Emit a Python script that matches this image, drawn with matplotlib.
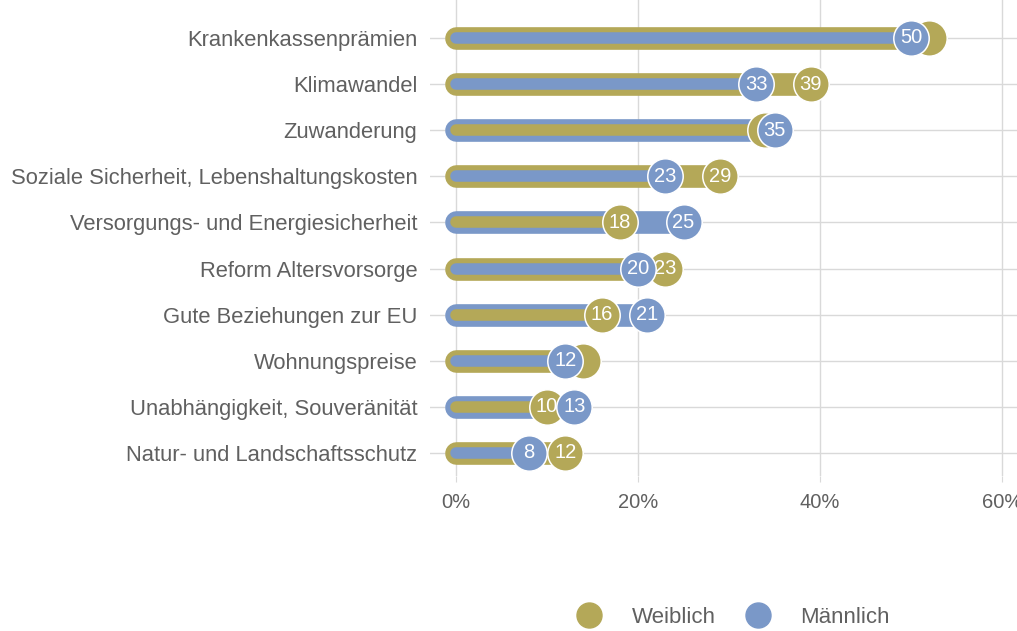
import numpy as np
import matplotlib.pyplot as plt
from matplotlib.lines import Line2D

plt.rcParams['font.family'] = ['Liberation Sans', 'DejaVu Sans']

themen = ['Krankenkassenprämien', 'Klimawandel', 'Zuwanderung',
          'Soziale Sicherheit, Lebenshaltungskosten',
          'Versorgungs- und Energiesicherheit', 'Reform Altersvorsorge',
          'Gute Beziehungen zur EU', 'Wohnungspreise',
          'Unabhängigkeit, Souveränität', 'Natur- und Landschaftsschutz']
weiblich = [52, 39, 34, 29, 18, 23, 16, 14, 10, 12]
maennlich = [50, 33, 35, 23, 25, 20, 21, 12, 13, 8]
xticks = [0, 20, 40, 60]

c_w = '#b4a858'
c_m = '#7a98c8'
grau = '#606060'

fig = plt.figure(figsize=(10.17, 6.31), dpi=100)
ax = fig.add_axes([430/1017, 155/631, 587/1017, 476/631])

for i in range(len(themen)):
    w = weiblich[i]
    m = maennlich[i]
    # groesserer Wert = dicker Balken hinten
    if w >= m:
        big, small = (w, c_w), (m, c_m)
    else:
        big, small = (m, c_m), (w, c_w)
    ax.plot([0, big[0]], [i, i], color=big[1], lw=16.3,
            solid_capstyle='round', zorder=3)
    ax.plot([0, small[0]], [i, i], color=small[1], lw=8.3,
            solid_capstyle='round', zorder=4)
    ax.plot(w, i, 'o', ms=25.5, color=c_w, mec='white', mew=1.1, zorder=5)
    if abs(w - m) > 2:
        ax.text(w, i, str(w), color='white', fontsize=14.5,
                ha='center', va='center', zorder=6)
    ax.plot(m, i, 'o', ms=25.5, color=c_m, mec='white', mew=1.1, zorder=7)
    ax.text(m, i, str(m), color='white', fontsize=14.5,
            ha='center', va='center', zorder=8)

ax.set_xlim(-2.86, 61.65)
ax.set_ylim(9.5, -0.824)
ax.set_xticks(xticks)
ax.set_xticklabels([f'{t}%' for t in xticks])
ax.set_yticks(range(len(themen)))
ax.set_yticklabels(themen)
ax.grid(True, color='#d9d9d9', lw=1, zorder=0)
ax.set_axisbelow(True)
for s in ax.spines.values():
    s.set_visible(False)
ax.tick_params(axis='x', length=4.5, color='#d9d9d9', labelcolor=grau,
               labelsize=14.5, pad=8)
ax.tick_params(axis='y', length=0, labelcolor=grau, labelsize=15.8, pad=9)

handles = [Line2D([], [], marker='o', ls='', ms=18, color=c_w),
           Line2D([], [], marker='o', ls='', ms=18, color=c_m)]
fig.legend(handles, ['Weiblich', 'Männlich'], loc='center',
           bbox_to_anchor=(0.716, 0.022), ncol=2, frameon=False,
           fontsize=16, labelcolor=grau, handletextpad=0.9, columnspacing=0.9)

fig.savefig('out.png', dpi=100)
